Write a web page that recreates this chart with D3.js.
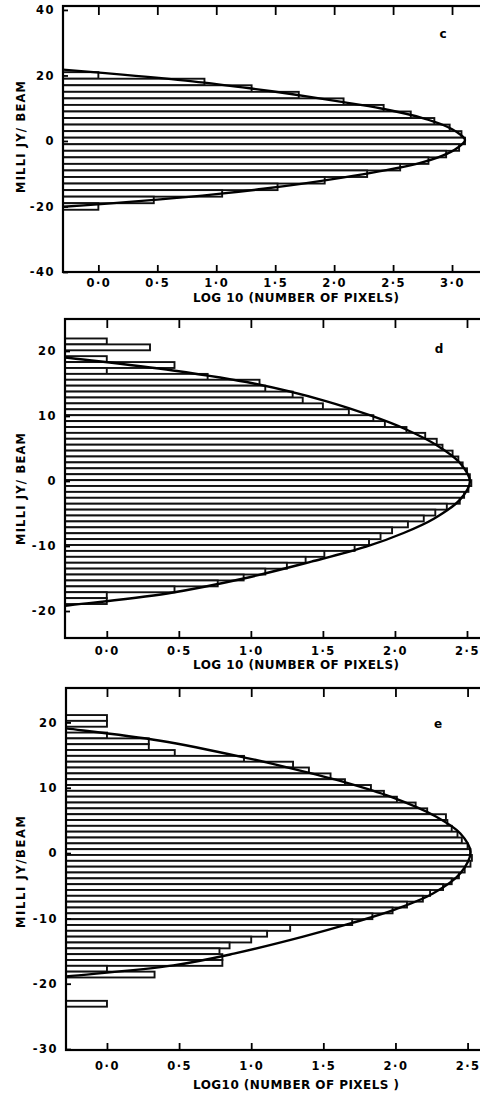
<!DOCTYPE html>
<html><head><meta charset="utf-8">
<script src="https://cdn.jsdelivr.net/npm/d3@7"></script>
<style>body{margin:0;background:#fff}svg{display:block}</style>
</head><body>
<svg id="chart" width="480" height="1093"></svg>
<script>
// ================= DATA =================
// Panel c : bin centres (mJy/beam) and log10(number of pixels)
const cBinWidth = 2;
const cCenters = [20,18,16,14,12,10,8,6,4,2,0,-2,-4,-6,-8,-10,-12,-14,-16,-18,-20];
const cValues  = [0.00,0.90,1.30,1.70,2.08,2.42,2.65,2.85,2.98,3.08,3.11,3.06,2.95,2.80,2.56,2.28,1.92,1.52,1.05,0.47,0.00];
const cCurve = [[22.3,-0.48],[20.7,0.06],[18.2,0.80],[16,1.30],[14.4,1.62],[12,2.05],[9.9,2.40],[7,2.75],[4.8,2.93],[2.5,3.05],[0.3,3.11],[-2,3.05],[-4.5,2.92],[-7,2.70],[-9.3,2.38],[-11.2,2.07],[-13.1,1.72],[-14.6,1.40],[-16.3,0.98],[-17.9,0.50],[-19.2,0.05],[-20.3,-0.38]];

// Panel d
const dBinWidth = 0.908;
const dCenters = [21.47,20.56,19.65,18.75,17.84,16.93,16.02,15.12,14.21,13.30,12.39,11.49,10.58,9.67,8.76,7.85,6.95,6.04,5.13,4.22,3.32,2.41,1.50,0.59,-0.32,-1.22,-2.13,-3.04,-3.95,-4.86,-5.76,-6.67,-7.58,-8.49,-9.39,-10.30,-11.21,-12.12,-13.03,-13.93,-14.84,-15.75,-16.66,-17.56,-18.47];
const dValues  = [0.00,0.30,null,0.00,0.47,0.00,0.70,1.06,1.10,1.29,1.36,1.50,1.68,1.85,1.93,2.08,2.21,2.29,2.33,2.40,2.44,2.47,2.50,2.52,2.53,2.51,2.48,2.45,2.36,2.28,2.20,2.09,1.98,1.90,1.82,1.72,1.51,1.38,1.25,1.10,0.95,0.77,0.47,0.00,0.00];
const dCurve = [[19.9,-0.64],[19.0,-0.29],[17.0,0.46],[15.0,1.02],[12.3,1.52],[10.0,1.84],[8.0,2.07],[5.5,2.29],[2.8,2.45],[-0.1,2.52],[-2.9,2.45],[-5.8,2.27],[-8.0,2.06],[-10.1,1.80],[-12.4,1.42],[-15.0,0.95],[-17.3,0.42],[-19.2,-0.29],[-20.1,-0.66]];

// Panel e
const eBinWidth = 0.893;
const eCenters = [20.68,19.79,18.90,18.00,17.11,16.22,15.33,14.43,13.54,12.65,11.75,10.86,9.97,9.08,8.18,7.29,6.40,5.50,4.61,3.72,2.83,1.93,1.04,0.15,-0.74,-1.64,-2.53,-3.42,-4.32,-5.21,-6.10,-6.99,-7.89,-8.78,-9.67,-10.57,-11.46,-12.35,-13.24,-14.14,-15.03,-15.92,-16.82,-17.71,-18.60,-19.49,-20.39,-21.28,-22.17,-23.07];
const eValues  = [0.00,0.00,null,0.00,0.29,0.29,0.47,0.95,1.29,1.40,1.55,1.65,1.83,1.92,2.01,2.14,2.22,2.35,2.36,2.39,2.43,2.46,2.50,2.52,2.53,2.52,2.48,2.44,2.39,2.33,2.24,2.19,2.08,1.98,1.84,1.70,1.27,1.11,1.00,0.85,0.78,0.80,0.80,0.00,0.33,null,null,null,null,0.00];
const eCurve = [[20.0,-0.65],[19.1,-0.29],[17.2,0.37],[14.5,0.98],[13.0,1.27],[10.9,1.64],[8.6,1.97],[5.6,2.28],[3.0,2.45],[0.2,2.52],[-3.1,2.45],[-6.2,2.26],[-8.7,1.99],[-10.7,1.70],[-12.8,1.36],[-15.4,0.88],[-17.2,0.46],[-18.9,-0.29],[-19.8,-0.70]];

// Tick values and texts
const cXTicks = [0,0.5,1,1.5,2,2.5,3];
const dXTicks = [0,0.5,1,1.5,2,2.5];
const eXTicks = [0,0.5,1,1.5,2,2.5];
const cYTicks = [-40,-20,0,20,40];
const dYTicks = [-20,-10,0,10,20];
const eYTicks = [-30,-20,-10,0,10,20];
const panelLetters = ["c","d","e"];
const yTitles = ["MILLI JY/ BEAM","MILLI JY/ BEAM","MILLI JY/BEAM"];
const xTitles = ["LOG 10 (NUMBER OF PIXELS)","LOG 10 (NUMBER OF PIXELS)","LOG10 (NUMBER OF PIXELS )"];

// ================= LAYOUT =================
const layout = [
  {left:63, right:481.5, top:6,   bottom:272,  xDom:[-0.3,3.25],  yDom:[-40,41.2],     xPad:7,  yTitleY:137, xTitleY:298,  letter:[443,38]},
  {left:65, right:481.4, top:319, bottom:638,  xDom:[-0.29,2.6],  yDom:[-24.15,24.92], xPad:9,  yTitleY:489, xTitleY:665,  letter:[439,353]},
  {left:66, right:482,   top:688, bottom:1050, xDom:[-0.284,2.6], yDom:[-30.15,25.27], xPad:12, yTitleY:872, xTitleY:1085, letter:[438,728]}
];
const panelData = [
  {centers:cCenters, values:cValues, bw:cBinWidth, curve:cCurve, xt:cXTicks, yt:cYTicks},
  {centers:dCenters, values:dValues, bw:dBinWidth, curve:dCurve, xt:dXTicks, yt:dYTicks},
  {centers:eCenters, values:eValues, bw:eBinWidth, curve:eCurve, xt:eXTicks, yt:eYTicks}
];

const svg = d3.select("#chart");
const FONT = "'DejaVu Sans', sans-serif";
const fmtX = v => d3.format(".1f")(v).replace(".", "\u00B7");

panelData.forEach((pd, i) => {
  const L = layout[i];
  const x = d3.scaleLinear().domain(L.xDom).range([L.left, L.right]);
  const y = d3.scaleLinear().domain(L.yDom).range([L.bottom, L.top]);
  const g = svg.append("g");

  const clipId = "clip" + i;
  svg.append("clipPath").attr("id", clipId).append("rect")
    .attr("x", L.left).attr("y", L.top).attr("width", L.right - L.left).attr("height", L.bottom - L.top);

  const plot = g.append("g").attr("clip-path", `url(#${clipId})`);

  // bars
  const bars = pd.centers.map((c, k) => ({c, v: pd.values[k]})).filter(d => d.v !== null);
  plot.selectAll("rect.bar").data(bars).enter().append("rect")
    .attr("class", "bar")
    .attr("x", L.left)
    .attr("y", d => y(d.c + pd.bw / 2))
    .attr("width", d => Math.max(0, x(d.v) - L.left))
    .attr("height", d => y(d.c - pd.bw / 2) - y(d.c + pd.bw / 2))
    .attr("fill", "#fff").attr("stroke", "#111").attr("stroke-width", 1.9);

  // fitted curve
  const line = d3.line().x(d => x(d[1])).y(d => y(d[0])).curve(d3.curveCatmullRom.alpha(0.5));
  plot.append("path").datum(pd.curve).attr("d", line)
    .attr("fill", "none").attr("stroke", "#000").attr("stroke-width", 2.4);

  // axes
  const axB = d3.axisBottom(x).tickValues(pd.xt).tickFormat(fmtX).tickSize(-7).tickPadding(L.xPad);
  const gB = g.append("g").attr("transform", `translate(0,${L.bottom})`).call(axB);
  const axT = d3.axisTop(x).tickValues(pd.xt).tickFormat("").tickSize(-9);
  const gT = g.append("g").attr("transform", `translate(0,${L.top})`).call(axT);
  const axL = d3.axisLeft(y).tickValues(pd.yt).tickFormat(d => d < 0 ? "-" + Math.abs(d) : d).tickSize(-5).tickPadding(8);
  const gL = g.append("g").attr("transform", `translate(${L.left},0)`).call(axL);
  [gB, gT, gL].forEach(a => {
    a.select(".domain").remove();
    a.selectAll(".tick line").attr("stroke", "#000").attr("stroke-width", 1.8);
    a.selectAll(".tick text").attr("fill", "#000").style("font-family", FONT)
      .style("font-size", "11.5px").style("font-weight", "bold").style("letter-spacing", "1.5px");
  });

  // frame
  g.append("rect").attr("x", L.left).attr("y", L.top)
    .attr("width", L.right - L.left + 10).attr("height", L.bottom - L.top)
    .attr("fill", "none").attr("stroke", "#000").attr("stroke-width", 2.2);

  // titles
  g.append("text").attr("transform", `translate(21,${L.yTitleY}) rotate(-90)`)
    .attr("text-anchor", "middle").attr("dominant-baseline", "central")
    .style("font-family", FONT).style("font-size", "11.5px").style("font-weight", "bold")
    .attr("textLength", 112).attr("lengthAdjust", "spacing")
    .text(yTitles[i]);
  g.append("text").attr("x", 296).attr("y", L.xTitleY)
    .attr("text-anchor", "middle").attr("dominant-baseline", "central")
    .style("font-family", FONT).style("font-size", "12px").style("font-weight", "bold")
    .attr("textLength", 206).attr("lengthAdjust", "spacing")
    .text(xTitles[i]);
  g.append("text").attr("x", L.letter[0]).attr("y", L.letter[1])
    .attr("text-anchor", "middle")
    .style("font-family", FONT).style("font-size", "12px").style("font-weight", "bold")
    .text(panelLetters[i]);
});
</script>
</body></html>
